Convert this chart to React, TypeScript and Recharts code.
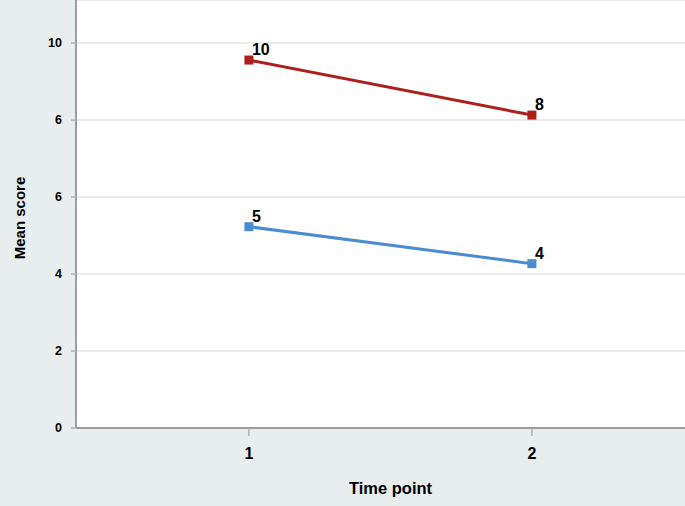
import React from 'react';
import { LineChart, Line, XAxis, YAxis, CartesianGrid, LabelList } from 'recharts';

const timePoints = [1, 2];
const highScores = [9.56, 8.13];
const lowScores = [5.23, 4.27];
const highLabels = ['10', '8'];
const lowLabels = ['5', '4'];
const yTicks = [0, 2, 4, 6, 8, 10];
const yTickLabels = ['0', '2', '4', '6', '6', '10'];

const data = timePoints.map((t, i) => ({
  t,
  high: highScores[i],
  low: lowScores[i],
  highLabel: highLabels[i],
  lowLabel: lowLabels[i],
}));

const FONT = '"Liberation Sans", Arial, sans-serif';

const squareDot = (color: string) => (props: any) => {
  const { cx, cy, index } = props;
  if (cx == null || cy == null) return <g key={index} />;
  return <rect key={index} x={cx - 4.5} y={cy - 4.5} width={9} height={9} fill={color} />;
};

const pointLabel = (props: any) => {
  const { x, y, value, index } = props;
  return (
    <text key={index} x={x + 3} y={y - 5} fontFamily={FONT} fontWeight="bold" fontSize={16} fill="#000">
      {value}
    </text>
  );
};

const YTick = (props: any) => {
  const { x, y, payload } = props;
  const idx = yTicks.indexOf(payload.value);
  return (
    <text x={x} y={y + 4} textAnchor="end" fontFamily={FONT} fontWeight="bold" fontSize={12.5} fill="#000">
      {idx >= 0 ? yTickLabels[idx] : payload.value}
    </text>
  );
};

export default function App() {
  return (
    <div style={{ position: 'absolute', left: 0, top: 0, width: 685, height: 506, background: '#e8eded' }}>
      <LineChart width={685} height={506} data={data} margin={{ top: 0, right: 0, left: 0, bottom: 0 }}>
        <CartesianGrid horizontal vertical={false} stroke="#ebebeb" strokeWidth={2} fill="#ffffff" />
        <XAxis
          dataKey="t"
          type="number"
          domain={[0.389, 2.541]}
          ticks={timePoints}
          allowDataOverflow
          height={78}
          axisLine={{ stroke: '#9c9c9c', strokeWidth: 2 }}
          tickLine={{ stroke: '#b0b0b0', strokeWidth: 1.5 }}
          tickSize={8}
          tickMargin={12}
          tick={{ fontFamily: FONT, fontWeight: 'bold', fontSize: 16, fill: '#000' }}
          label={{
            value: 'Time point',
            position: 'insideBottom',
            offset: 12,
            dx: 10,
            style: { fontFamily: FONT, fontWeight: 'bold', fontSize: 16.5, fill: '#000' },
          }}
        />
        <YAxis
          type="number"
          domain={[0, 11.12]}
          ticks={yTicks}
          allowDataOverflow
          width={76}
          axisLine={{ stroke: '#9c9c9c', strokeWidth: 2 }}
          tickLine={{ stroke: '#b0b0b0', strokeWidth: 1.5 }}
          tickSize={5}
          tickMargin={9}
          tick={<YTick />}
          label={{
            value: 'Mean score',
            angle: -90,
            position: 'center',
            dx: -18,
            dy: 4,
            style: { fontFamily: FONT, fontWeight: 'bold', fontSize: 15, fill: '#000', textAnchor: 'middle' },
          }}
        />
        <Line
          dataKey="high"
          stroke="#ad1f1a"
          strokeWidth={3}
          dot={squareDot('#ad1f1a')}
          activeDot={false}
          isAnimationActive={false}
        >
          <LabelList dataKey="highLabel" content={pointLabel} />
        </Line>
        <Line
          dataKey="low"
          stroke="#4a8dcf"
          strokeWidth={3}
          dot={squareDot('#4a8dcf')}
          activeDot={false}
          isAnimationActive={false}
        >
          <LabelList dataKey="lowLabel" content={pointLabel} />
        </Line>
      </LineChart>
    </div>
  );
}
